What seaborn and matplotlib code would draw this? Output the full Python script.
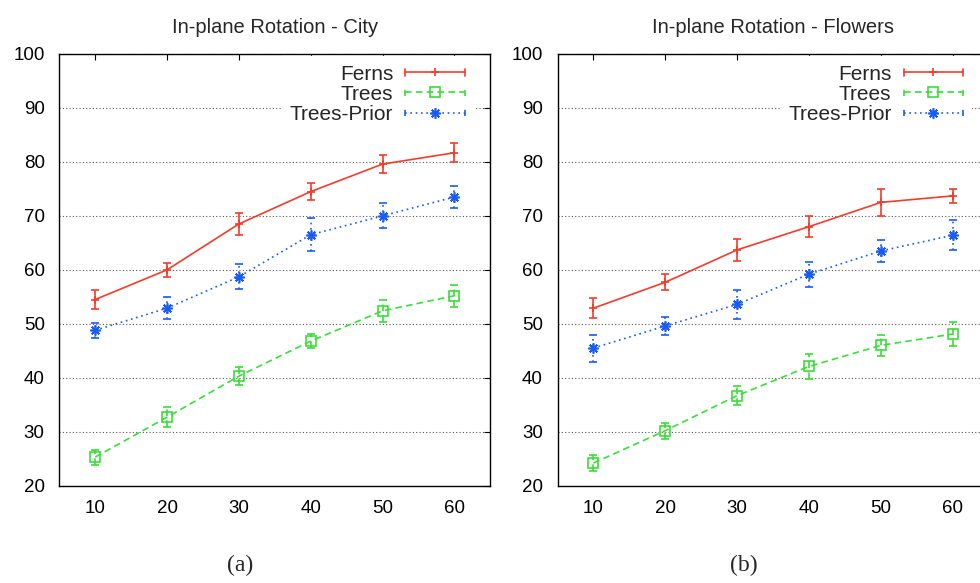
import matplotlib
matplotlib.use("Agg")
import matplotlib.pyplot as plt
import seaborn as sns
from matplotlib.lines import Line2D
from matplotlib.legend_handler import HandlerLine2D

# ---------------- data ----------------
x_vals = [10, 20, 30, 40, 50, 60]
series_names = ["Ferns", "Trees", "Trees-Prior"]

city_ferns = [54.5, 60.0, 68.5, 74.5, 79.6, 81.7]
city_ferns_err = [1.8, 1.3, 2.0, 1.6, 1.6, 1.8]
city_trees = [25.3, 32.7, 40.3, 46.8, 52.4, 55.2]
city_trees_err = [1.4, 1.8, 1.7, 1.3, 2.0, 2.0]
city_prior = [48.8, 52.9, 58.7, 66.5, 70.0, 73.5]
city_prior_err = [1.4, 2.0, 2.3, 3.1, 2.3, 2.1]

flow_ferns = [52.9, 57.7, 63.7, 68.0, 72.5, 73.7]
flow_ferns_err = [1.9, 1.5, 2.0, 2.0, 2.5, 1.3]
flow_trees = [24.2, 30.2, 36.7, 42.1, 46.0, 48.1]
flow_trees_err = [1.4, 1.5, 1.7, 2.3, 2.0, 2.2]
flow_prior = [45.5, 49.6, 53.6, 59.2, 63.5, 66.4]
flow_prior_err = [2.5, 1.6, 2.7, 2.3, 2.0, 2.8]

titles = ["In-plane Rotation - City", "In-plane Rotation - Flowers"]
captions = ["(a)", "(b)"]
y_ticks = [20, 30, 40, 50, 60, 70, 80, 90, 100]

# ---------------- style ----------------
sns.set_style("white")
plt.rcParams["font.family"] = ["Liberation Sans", "DejaVu Sans"]

colors = ["#f23c2c", "#3ade3a", "#1a5cf2"]
linestyles = ["-", (0, (4, 2.5)), (0, (1, 2.2))]
markers = ["+", "s", (8, 2, 0)]
msizes = [6, 7, 7.5]
LW = 1.2


class CapLineHandler(HandlerLine2D):
    def create_artists(self, legend, orig_handle, xdescent, ydescent,
                       width, height, fontsize, trans):
        arts = super().create_artists(legend, orig_handle, xdescent, ydescent,
                                      width, height, fontsize, trans)
        y = (height - ydescent) / 2
        h = 0.25 * height
        for xx in (-xdescent, width - xdescent):
            cap = Line2D([xx, xx], [y - h, y + h], color=orig_handle.get_color(),
                         lw=orig_handle.get_linewidth(),
                         ls=orig_handle.get_linestyle())
            cap.set_transform(trans)
            arts.append(cap)
        return arts


fig = plt.figure(figsize=(9.8, 5.83), dpi=100)
ax1 = fig.add_axes([0.0605, 0.1669, 0.4398, 0.7405])
ax2 = fig.add_axes([0.5689, 0.1669, 0.4398, 0.7405])

datasets = [
    [(city_ferns, city_ferns_err), (city_trees, city_trees_err), (city_prior, city_prior_err)],
    [(flow_ferns, flow_ferns_err), (flow_trees, flow_trees_err), (flow_prior, flow_prior_err)],
]

for ax, data, title in zip([ax1, ax2], datasets, titles):
    ax.yaxis.grid(True, linestyle=(0, (1, 2)), color="#555555", linewidth=0.8, zorder=0)
    ax.xaxis.grid(False)
    for i, (vals, errs) in enumerate(data):
        c = colors[i]
        sns.lineplot(x=x_vals, y=vals, ax=ax, color=c, linestyle=linestyles[i],
                     marker=markers[i], markersize=msizes[i], markerfacecolor="none",
                     markeredgecolor=c, markeredgewidth=1.2, linewidth=LW, zorder=3)
        eb = ax.errorbar(x_vals, vals, yerr=errs, fmt="none", ecolor=c,
                         elinewidth=LW, capsize=2.6, capthick=LW, zorder=3)
        eb.lines[2][0].set_linestyle(linestyles[i])

    ax.set_xlim(5, 65)
    ax.set_ylim(20, 100)
    ax.set_xticks(x_vals)
    ax.set_yticks(y_ticks)
    ax.set_xlabel("")
    ax.set_ylabel("")
    ax.tick_params(axis="both", direction="in", top=True, right=True,
                   length=4, width=0.8, labelsize=13.5, colors="black")
    ax.tick_params(axis="y", pad=10.5)
    ax.tick_params(axis="x", pad=10.5)
    for sp in ax.spines.values():
        sp.set_visible(True)
        sp.set_color("black")
        sp.set_linewidth(1.0)
    ax.set_title(title, fontsize=14.5, pad=15)

    handles = [Line2D([], [], color=colors[i], linestyle=linestyles[i], marker=markers[i],
                      markersize=msizes[i], markerfacecolor="none", markeredgecolor=colors[i],
                      markeredgewidth=1.2, linewidth=LW) for i in range(3)]
    leg = ax.legend(handles, series_names, loc="upper right",
                    bbox_to_anchor=(0.972, 1.007), markerfirst=False, frameon=True,
                    fancybox=False, framealpha=1.0, edgecolor="white", facecolor="white",
                    fontsize=15, handlelength=2.85, handletextpad=0.58,
                    labelspacing=0.06, borderpad=0.4, borderaxespad=0.25,
                    handler_map={Line2D: CapLineHandler()})
    for t in leg.get_texts():
        t.set_ha("right")
    leg.set_zorder(5)

fig.text(0.245, 0.03, captions[0], ha="center", va="center",
         family=["Liberation Serif", "DejaVu Serif"], fontsize=17)
fig.text(0.759, 0.03, captions[1], ha="center", va="center",
         family=["Liberation Serif", "DejaVu Serif"], fontsize=17)

fig.savefig("out.png", dpi=100)
